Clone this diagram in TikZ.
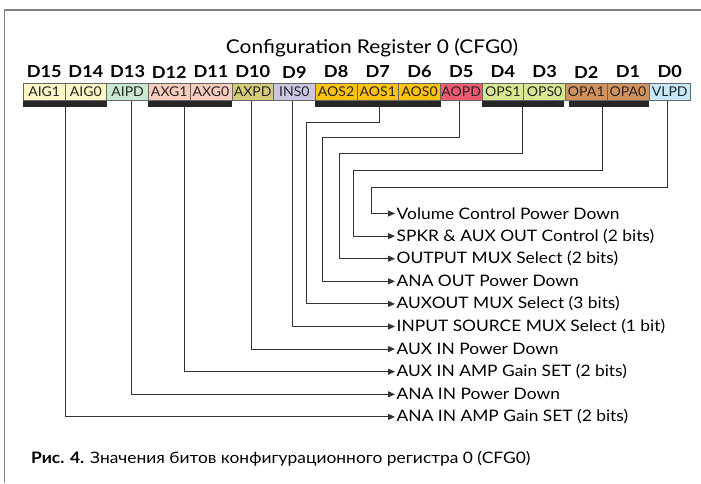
\documentclass[tikz,border=0pt]{standalone}
\usepackage{fontspec}
\setmainfont{Lato}[FakeStretch=1.1]
\newfontfamily\cellfont{Lato}[FakeStretch=1.04]
\usetikzlibrary{arrows.meta, calc}

\definecolor{cAIG}{HTML}{FDF6C6}
\definecolor{cAIPD}{HTML}{C9E8D2}
\definecolor{cAXG}{HTML}{F9CDBD}
\definecolor{cAXPD}{HTML}{D6CC78}
\definecolor{cINS}{HTML}{C9C6E2}
\definecolor{cAOS}{HTML}{FFC20E}
\definecolor{cAOPD}{HTML}{EE5A6F}
\definecolor{cOPS}{HTML}{D7E891}
\definecolor{cOPA}{HTML}{D3925C}
\definecolor{cVLPD}{HTML}{C7E8F8}

\tikzset{
  bitcell/.style={draw=gray!80!black, line width=0.7pt, minimum width=41.7pt, minimum height=17pt,
    inner sep=0pt, anchor=north west, font=\cellfont\fontsize{13.5}{14}\selectfont, text=black!85},
  bitnum/.style={font=\bfseries\fontsize{16.5}{17}\selectfont},
  bar/.style={fill=black!85},
  wire/.style={line width=1pt, draw=black!80, -{Triangle[length=7pt,width=6pt]}},
  field/.style={anchor=west, inner sep=1.5pt, font=\fontsize{15.8}{16}\selectfont}
}

\begin{document}
\begin{tikzpicture}[x=1pt,y=-1pt]
\useasboundingbox (0,0) rectangle (701,483);
\draw[gray, line width=1.2pt] (701,10) -- (4.5,10) -- (4.5,483);

\node[font=\fontsize{19}{19}\selectfont] (title) at (372,48) {Configuration Register 0 (CFG0)};

\foreach \n/\t/\c [count=\i from 0] in {aig1/AIG1/cAIG, aig0/AIG0/cAIG, aipd/AIPD/cAIPD,
    axg1/AXG1/cAXG, axg0/AXG0/cAXG, axpd/AXPD/cAXPD, ins0/INS0/cINS,
    aos2/AOS2/cAOS, aos1/AOS1/cAOS, aos0/AOS0/cAOS, aopd/AOPD/cAOPD,
    ops1/OPS1/cOPS, ops0/OPS0/cOPS, opa1/OPA1/cOPA, opa0/OPA0/cOPA, vlpd/VLPD/cVLPD} {
  \pgfmathtruncatemacro\d{15-\i}
  \node[bitcell, fill=\c] (\n) at (23+\i*41.7,83) {\t};
  \node[bitnum] (d\d) at ($(\n.north)+(0,-11)$) {D\d};
}

\fill[bar] (aig1.south west) rectangle ($(aig0.south east)+(0,6.5)$);
\fill[bar] (axg1.south west) rectangle ($(axg0.south east)+(0,6.5)$);
\fill[bar] (aos2.south west) rectangle ($(aos0.south east)+(0,6.5)$);
\fill[bar] (ops1.south west) rectangle ($(ops0.south east)+(-2,6.5)$);
\fill[bar] ($(opa1.south west)+(4,0)$) rectangle ($(opa0.south east)+(0,6.5)$);

\node[field] (lVLPD) at (395,213.5) {Volume Control Power Down};
\node[field] (lOPA) at (395,236.1) {SPKR \& AUX OUT Control (2 bits)};
\node[field] (lOPS) at (395,258.7) {OUTPUT MUX Select (2 bits)};
\node[field] (lAOPD) at (395,281.3) {ANA OUT Power Down};
\node[field] (lAOS) at (395,303.9) {AUXOUT MUX Select (3 bits)};
\node[field] (lINS) at (395,326.5) {INPUT SOURCE MUX Select (1 bit)};
\node[field] (lAXPD) at (395,349.1) {AUX IN Power Down};
\node[field] (lAXG) at (395,371.7) {AUX IN AMP Gain SET (2 bits)};
\node[field] (lAIPD) at (395,394.3) {ANA IN Power Down};
\node[field] (lAIG) at (395,416.9) {ANA IN AMP Gain SET (2 bits)};

\coordinate (sAIG) at ($(aig1.south east)+(0,6.5)$);
\coordinate (sAXG) at ($(axg1.south east)+(-6,6.5)$);
\coordinate (sAOS) at ($(aos1.south)+(1.5,6.5)$);
\coordinate (sOPS) at ($(ops1.south east)+(-1.5,6.5)$);
\coordinate (sOPA) at ($(opa1.south east)+(-5,6.5)$);

\draw[wire] ([xshift=-2pt]vlpd.south) |- (371.5,187) |- (lVLPD.west);
\draw[wire] (sOPA) |- (353.5,170.5) |- (lOPA.west);
\draw[wire] (sOPS) |- (339,153) |- (lOPS.west);
\draw[wire] ([xshift=-2pt]aopd.south) |- (322,137.5) |- (lAOPD.west);
\draw[wire] (sAOS) |- (306,122) |- (lAOS.west);
\draw[wire] ([xshift=-2pt]ins0.south) |- (lINS.west);
\draw[wire] ([xshift=-1pt]axpd.south) |- (lAXPD.west);
\draw[wire] (sAXG) |- (lAXG.west);
\draw[wire] ([xshift=4pt]aipd.south) |- (lAIPD.west);
\draw[wire] (sAIG) |- (lAIG.west);

\node[anchor=west, inner sep=0pt, font=\fontsize{15.8}{17}\selectfont] (caption) at (31,459)
  {\textbf{Рис. 4.} Значения битов конфигурационного регистра 0 (CFG0)};
\end{tikzpicture}
\end{document}
